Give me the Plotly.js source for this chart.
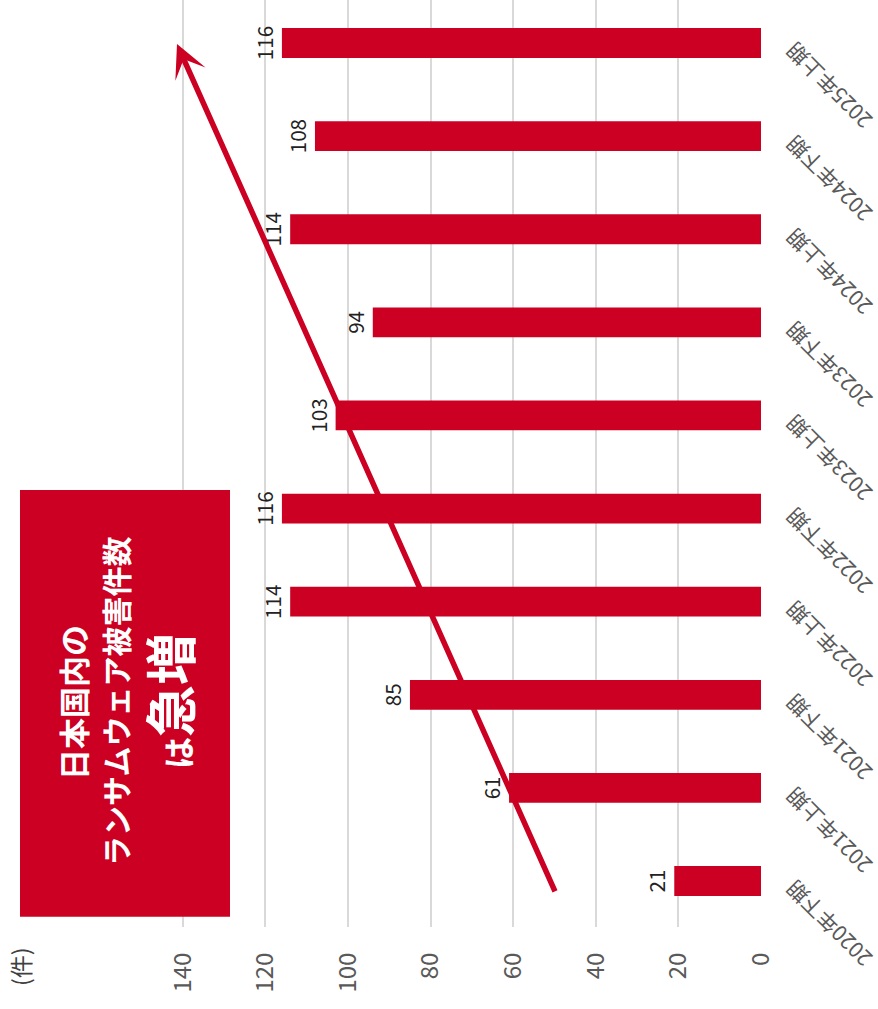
<!DOCTYPE html>
<html>
<head>
<meta charset="utf-8">
<script src="https://cdn.plot.ly/plotly-3.0.1.min.js"></script>
<style>html,body{margin:0;padding:0;background:#fff;}#chart{width:878px;height:1009px;}</style>
</head>
<body>
<div id="chart"></div>
<script>
const categories = ['2020年下期','2021年上期','2021年下期','2022年上期','2022年下期','2023年上期','2023年下期','2024年上期','2024年下期','2025年上期'];
const cases = [21, 61, 85, 114, 116, 103, 94, 114, 108, 116];
const valueTicks = [0, 20, 40, 60, 80, 100, 120, 140];
const unitLabel = '(件)';
const headline = ['日本国内の', 'ランサムウェア被害件数', 'は', '急増'];

const RED = '#cc0022';
const FONT = '"Noto Sans CJK JP", "Noto Sans", sans-serif';
const W = 878, H = 1009, L = 22, R = 117, T = 0, B = 82;
const pw = W - L - R, ph = H - T - B;
const px = v => (v - L) / pw;
const py = v => (H - B - v) / ph;

const trace = {
  type: 'bar',
  orientation: 'h',
  x: cases,
  y: categories,
  width: 0.32,
  marker: {color: RED},
  text: cases.map(String),
  textposition: 'outside',
  textangle: -90,
  cliponaxis: false,
  textfont: {family: FONT, size: 25, color: '#222'},
  hoverinfo: 'none'
};

const layout = {
  width: W, height: H,
  margin: {l: L, r: R, t: T, b: B},
  paper_bgcolor: '#fff', plot_bgcolor: '#fff',
  showlegend: false,
  font: {family: FONT},
  xaxis: {
    range: [pw / 4.13, 0],
    tickvals: valueTicks,
    ticktext: valueTicks.map(String),
    tickangle: -90,
    tickfont: {family: FONT, size: 24, color: '#595959'},
    showgrid: true, gridcolor: '#d9d9d9', gridwidth: 2,
    zeroline: false, showline: false,
    ticks: 'outside', ticklen: 15, tickcolor: 'rgba(0,0,0,0)'
  },
  yaxis: {
    type: 'category',
    range: [-0.494, 9.462],
    side: 'right',
    tickangle: -135,
    tickfont: {family: FONT, size: 21, color: '#595959'},
    showgrid: false, zeroline: false, showline: false,
    ticks: 'outside', ticklen: 8, tickcolor: 'rgba(0,0,0,0)',
    ticklabelstandoff: 92,
    ticklabelshift: 86
  },
  shapes: [{
    type: 'rect', xref: 'paper', yref: 'paper',
    x0: px(20), x1: px(230), y0: py(916.7), y1: py(490),
    fillcolor: RED, line: {width: 0}, layer: 'above'
  }],
  annotations: [
    {xref: 'paper', yref: 'paper', x: px(72), y: py(703), text: '<b>' + headline[0] + '</b>',
     showarrow: false, textangle: -90, xanchor: 'center', yanchor: 'middle',
     font: {family: FONT, size: 31, color: '#fff'}},
    {xref: 'paper', yref: 'paper', x: px(115), y: py(702), text: '<b>' + headline[1] + '</b>',
     showarrow: false, textangle: -90, xanchor: 'center', yanchor: 'middle',
     font: {family: FONT, size: 30, color: '#fff'}},
    {xref: 'paper', yref: 'paper', x: px(168), y: py(701),
     text: '<b>' + headline[2] + '<span style="font-size:52px">' + headline[3] + '</span></b>',
     showarrow: false, textangle: -90, xanchor: 'center', yanchor: 'middle',
     font: {family: FONT, size: 32, color: '#fff'}},
    {xref: 'paper', yref: 'paper', x: px(177), y: py(44), text: ' ',
     showarrow: true, arrowhead: 3, arrowsize: 1, arrowwidth: 5.5, arrowcolor: RED,
     ax: 381, ay: 854, standoff: 0, startstandoff: 0},
    {xref: 'paper', yref: 'paper', x: px(20), y: py(967), text: unitLabel,
     showarrow: false, textangle: -90, xanchor: 'center', yanchor: 'middle',
     font: {family: FONT, size: 23, color: '#404040'}}
  ]
};

Plotly.newPlot('chart', [trace], layout, {displayModeBar: false, staticPlot: true});
</script>
</body>
</html>
